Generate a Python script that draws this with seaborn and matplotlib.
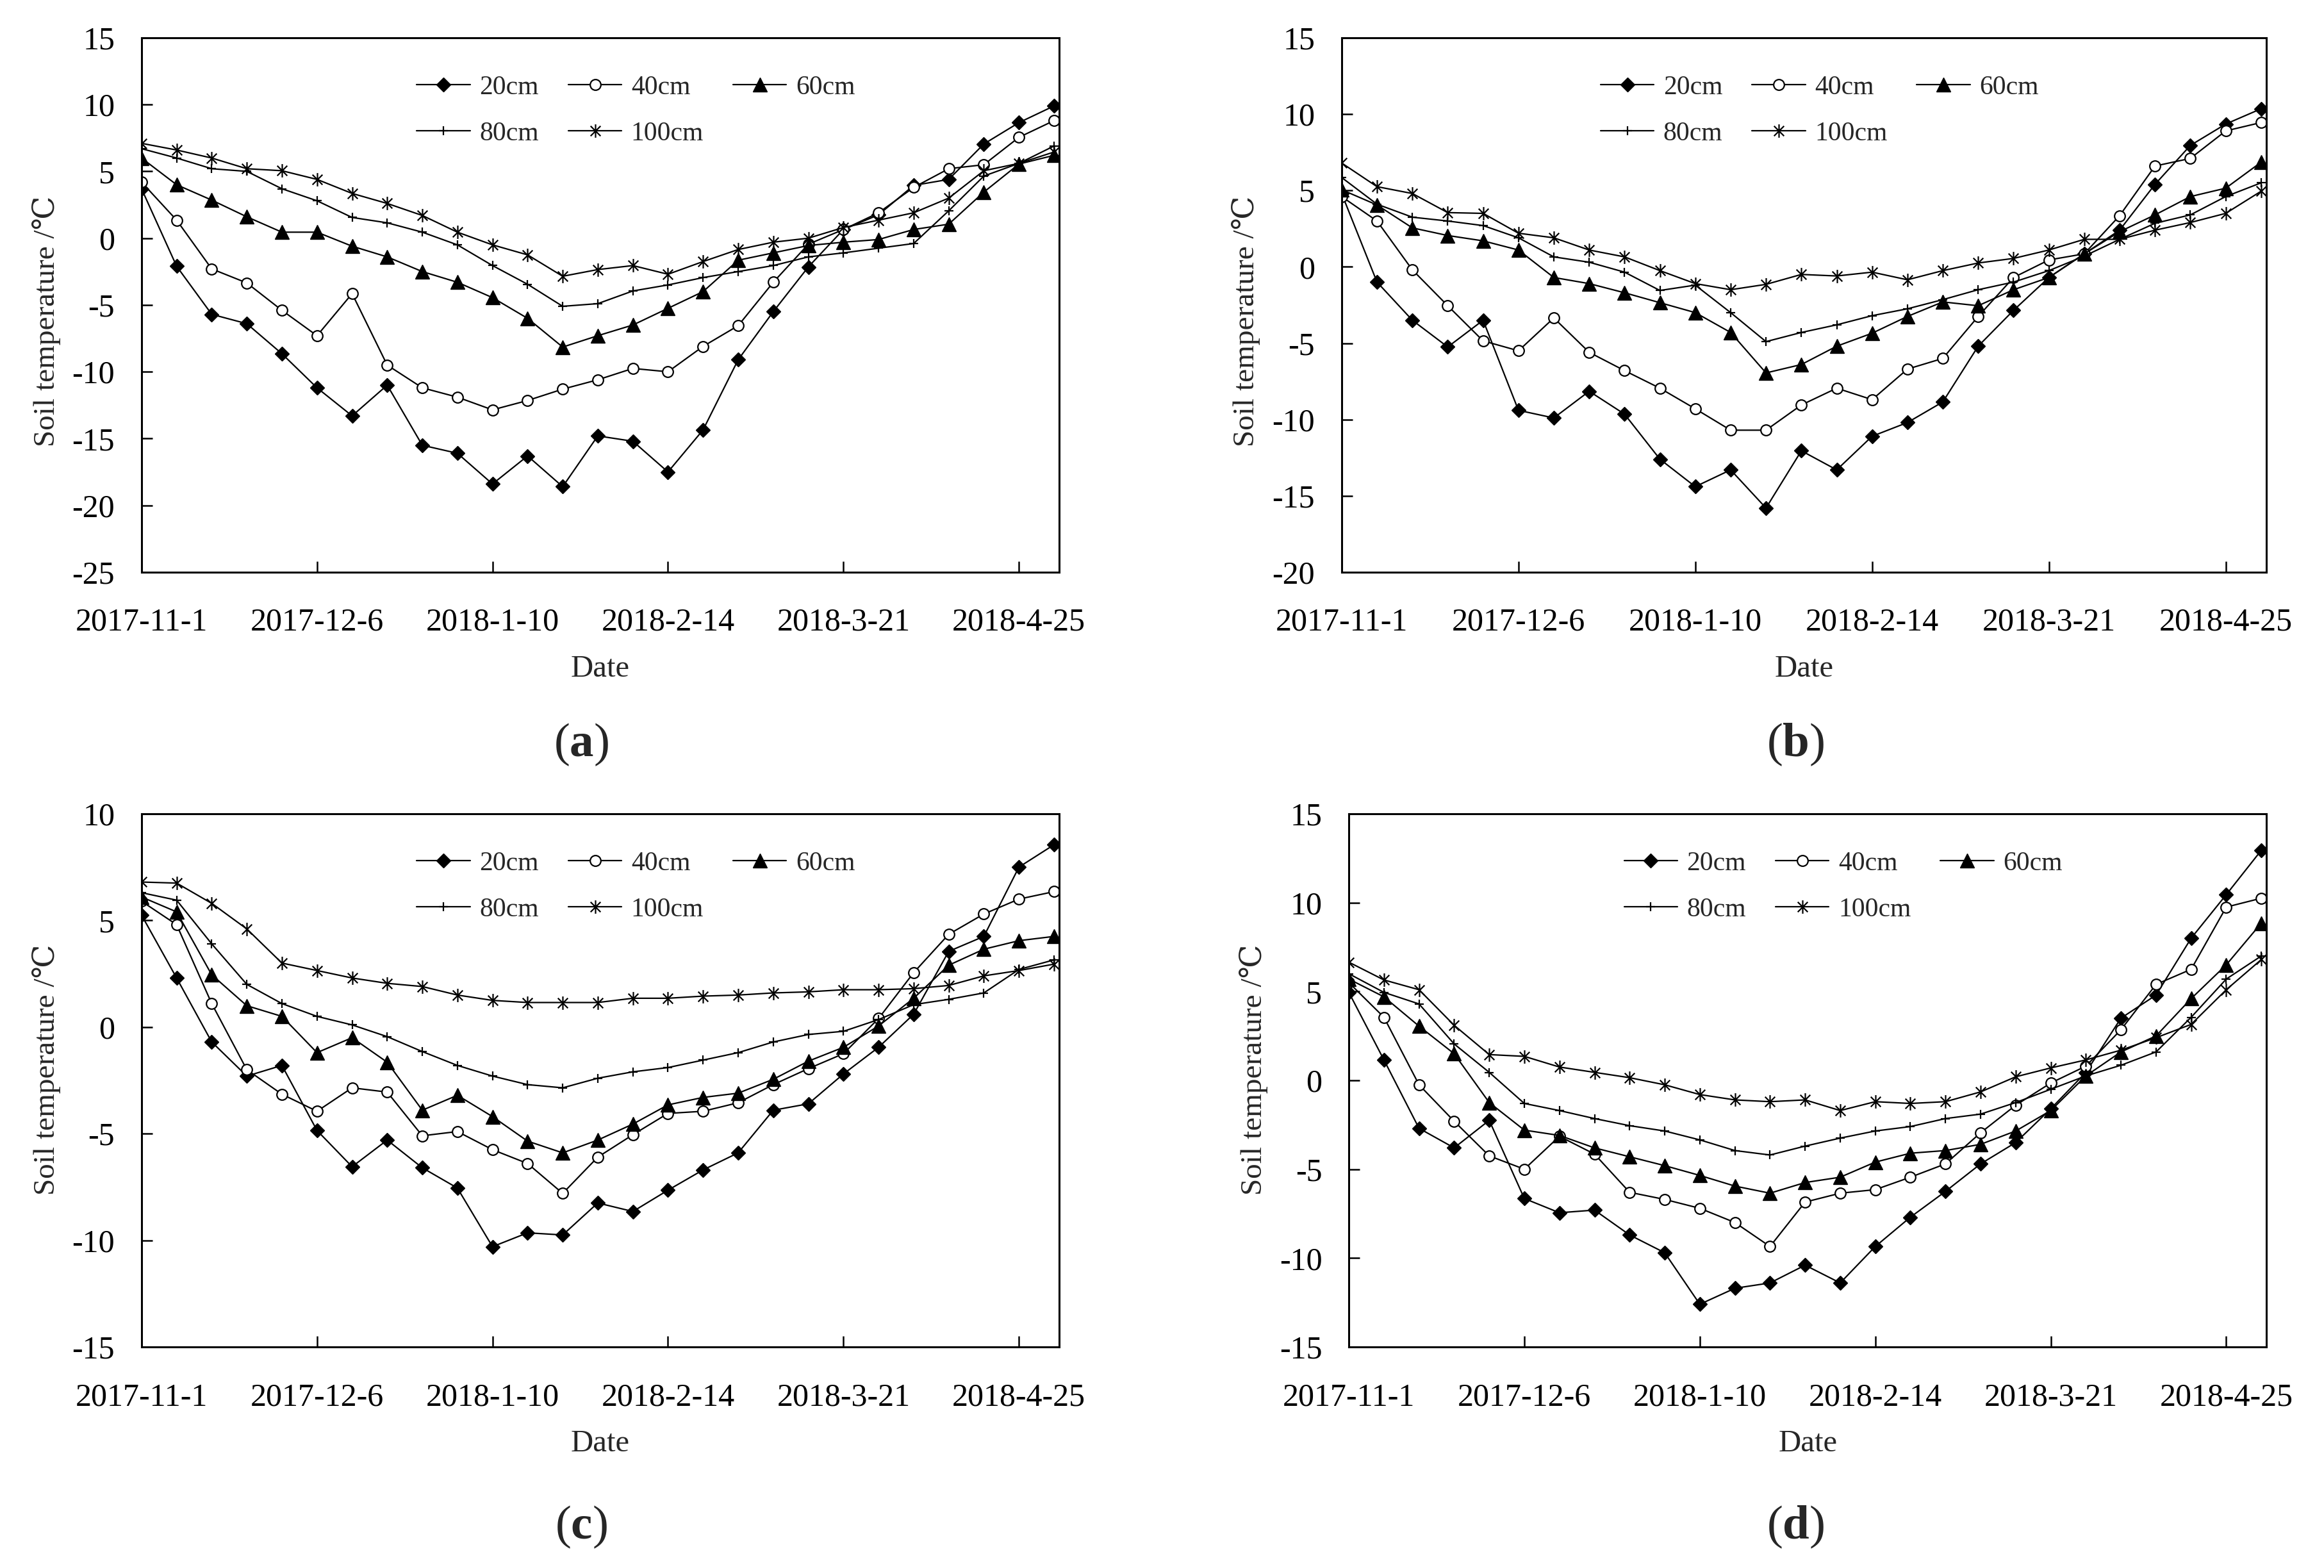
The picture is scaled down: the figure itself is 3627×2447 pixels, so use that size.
import matplotlib
matplotlib.use("Agg")
import matplotlib.pyplot as plt
import seaborn as sns
import pandas as pd
import numpy as np
from matplotlib.path import Path

# sampling dates (weekly)
dates = ["2017-11-01", "2017-11-08", "2017-11-15", "2017-11-22", "2017-11-29",
         "2017-12-06", "2017-12-13", "2017-12-20", "2017-12-27", "2018-01-03",
         "2018-01-10", "2018-01-17", "2018-01-24", "2018-01-31", "2018-02-07",
         "2018-02-14", "2018-02-21", "2018-02-28", "2018-03-07", "2018-03-14",
         "2018-03-21", "2018-03-28", "2018-04-04", "2018-04-11", "2018-04-18",
         "2018-04-25", "2018-05-02"]
tick_dates = ["2017-11-01", "2017-12-06", "2018-01-10", "2018-02-14", "2018-03-21", "2018-04-25"]
tick_labels = ["2017-11-1", "2017-12-6", "2018-1-10", "2018-2-14", "2018-3-21", "2018-4-25"]
depths = ["20cm", "40cm", "60cm", "80cm", "100cm"]

# panel (a)
a_20 = [3.7, -2.1, -5.7, -6.4, -8.65, -11.2, -13.3, -11.0, -15.5, -16.1, -18.4, -16.3, -18.6, -14.8,
        -15.2, -17.5, -14.35, -9.1, -5.5, -2.15, 0.65, 1.75, 3.95, 4.4, 7.05, 8.65, 9.9]
a_40 = [4.2, 1.35, -2.3, -3.35, -5.4, -7.3, -4.15, -9.5, -11.2, -11.9, -12.85, -12.15, -11.3, -10.6,
        -9.75, -10.0, -8.1, -6.55, -3.3, -0.45, 0.65, 1.9, 3.8, 5.2, 5.5, 7.55, 8.8]
a_60 = [6.0, 4.0, 2.85, 1.6, 0.45, 0.45, -0.6, -1.4, -2.5, -3.3, -4.45, -6.0, -8.15, -7.3,
        -6.5, -5.25, -4.0, -1.65, -1.1, -0.55, -0.3, -0.1, 0.65, 1.05, 3.45, 5.55, 6.2]
a_80 = [6.7, 6.0, 5.2, 5.0, 3.7, 2.8, 1.55, 1.15, 0.45, -0.5, -2.05, -3.45, -5.1, -4.9,
        -3.95, -3.5, -2.95, -2.5, -2.05, -1.4, -1.1, -0.75, -0.4, 2.05, 4.65, 5.6, 6.9]
a_100 = [7.1, 6.6, 6.0, 5.2, 5.05, 4.4, 3.35, 2.6, 1.7, 0.45, -0.5, -1.25, -2.85, -2.35,
         -2.05, -2.7, -1.75, -0.85, -0.3, 0.0, 0.8, 1.35, 1.9, 3.0, 5.05, 5.6, 6.45]

# panel (b)
b_20 = [4.8, -1.0, -3.5, -5.25, -3.5, -9.4, -9.9, -8.15, -9.65, -12.6, -14.4, -13.3, -15.8, -12.05,
        -13.3, -11.1, -10.2, -8.85, -5.2, -2.85, -0.7, 0.85, 2.4, 5.4, 7.95, 9.35, 10.35]
b_40 = [4.6, 3.0, -0.2, -2.55, -4.85, -5.5, -3.35, -5.6, -6.8, -7.95, -9.3, -10.7, -10.7, -9.05,
        -7.95, -8.7, -6.7, -6.0, -3.25, -0.7, 0.45, 0.85, 3.35, 6.6, 7.1, 8.9, 9.45]
b_60 = [5.05, 4.05, 2.55, 2.05, 1.7, 1.1, -0.7, -1.1, -1.7, -2.35, -3.0, -4.3, -6.95, -6.4,
        -5.2, -4.35, -3.25, -2.3, -2.55, -1.5, -0.7, 0.85, 2.3, 3.4, 4.6, 5.15, 6.85]
b_80 = [5.85, 4.1, 3.25, 3.0, 2.7, 1.9, 0.65, 0.3, -0.35, -1.55, -1.2, -3.0, -4.9, -4.3,
        -3.8, -3.2, -2.75, -2.15, -1.5, -1.0, -0.25, 0.7, 1.8, 2.85, 3.4, 4.6, 5.5]
b_100 = [6.8, 5.25, 4.8, 3.55, 3.5, 2.2, 1.9, 1.1, 0.65, -0.25, -1.1, -1.5, -1.15, -0.5,
         -0.6, -0.35, -0.85, -0.25, 0.25, 0.55, 1.1, 1.8, 1.8, 2.4, 2.9, 3.5, 4.95]

# panel (c)
c_20 = [5.25, 2.3, -0.7, -2.3, -1.8, -4.85, -6.55, -5.3, -6.6, -7.55, -10.3, -9.65, -9.75, -8.25,
        -8.65, -7.65, -6.7, -5.9, -3.9, -3.6, -2.2, -0.95, 0.6, 3.55, 4.25, 7.5, 8.55]
c_40 = [5.9, 4.8, 1.1, -2.0, -3.15, -3.95, -2.85, -3.05, -5.1, -4.9, -5.75, -6.4, -7.8, -6.1,
        -5.05, -4.05, -3.95, -3.55, -2.7, -1.95, -1.25, 0.4, 2.55, 4.35, 5.3, 6.0, 6.35]
c_60 = [6.1, 5.4, 2.45, 1.0, 0.5, -1.2, -0.5, -1.65, -3.9, -3.2, -4.2, -5.35, -5.9, -5.3,
        -4.55, -3.65, -3.3, -3.1, -2.45, -1.6, -0.95, 0.05, 1.35, 2.9, 3.65, 4.05, 4.25]
c_80 = [6.3, 5.95, 3.9, 2.0, 1.1, 0.5, 0.1, -0.45, -1.15, -1.8, -2.3, -2.7, -2.85, -2.4,
        -2.1, -1.9, -1.55, -1.2, -0.7, -0.35, -0.2, 0.35, 1.05, 1.3, 1.6, 2.7, 3.15]
c_100 = [6.8, 6.75, 5.8, 4.6, 3.0, 2.65, 2.3, 2.05, 1.9, 1.5, 1.25, 1.15, 1.15, 1.15,
         1.35, 1.35, 1.45, 1.5, 1.6, 1.65, 1.75, 1.75, 1.8, 1.95, 2.4, 2.65, 2.95]

# panel (d)
d_20 = [4.95, 1.15, -2.7, -3.8, -2.25, -6.65, -7.45, -7.3, -8.7, -9.7, -12.6, -11.7, -11.4, -10.4,
        -11.4, -9.35, -7.7, -6.25, -4.7, -3.5, -1.6, 0.45, 3.5, 4.8, 8.0, 10.45, 12.95]
d_40 = [5.5, 3.55, -0.25, -2.3, -4.25, -5.0, -3.15, -4.15, -6.3, -6.7, -7.2, -8.0, -9.35, -6.85,
        -6.35, -6.15, -5.45, -4.7, -2.95, -1.4, -0.15, 0.8, 2.85, 5.4, 6.25, 9.75, 10.25]
d_60 = [5.7, 4.7, 3.05, 1.5, -1.25, -2.8, -3.1, -3.8, -4.3, -4.8, -5.35, -5.95, -6.35, -5.75,
        -5.45, -4.6, -4.1, -3.95, -3.6, -2.85, -1.7, 0.25, 1.6, 2.5, 4.6, 6.5, 8.85]
d_80 = [6.0, 4.95, 4.3, 2.05, 0.45, -1.3, -1.7, -2.15, -2.55, -2.85, -3.35, -3.95, -4.2, -3.7,
        -3.25, -2.85, -2.6, -2.15, -1.9, -1.25, -0.5, 0.25, 0.85, 1.6, 3.55, 5.7, 7.0]
d_100 = [6.65, 5.65, 5.1, 3.1, 1.45, 1.35, 0.75, 0.45, 0.15, -0.25, -0.8, -1.1, -1.2, -1.1,
         -1.7, -1.2, -1.3, -1.2, -0.65, 0.2, 0.7, 1.15, 1.7, 2.4, 3.15, 5.1, 6.8]

sns.set_style("ticks")
plt.rcParams["font.family"] = ["Liberation Serif", "DejaVu Serif"]
plt.rcParams["axes.unicode_minus"] = False
plt.rcParams["mathtext.fontset"] = "custom"
plt.rcParams["mathtext.rm"] = "Liberation Serif"
plt.rcParams["mathtext.bf"] = "Liberation Serif:bold"

# excel-like asterisk marker: X plus a vertical bar
star = Path([(0, -1), (0, 1), (-0.75, -0.75), (0.75, 0.75), (-0.75, 0.75), (0.75, -0.75)],
            [Path.MOVETO, Path.LINETO] * 3)

styles = {
    "20cm": dict(marker="D", markersize=11, markerfacecolor="black", markeredgewidth=1.0),
    "40cm": dict(marker="o", markersize=12, markerfacecolor="white", markeredgewidth=1.6),
    "60cm": dict(marker="^", markersize=16, markerfacecolor="black", markeredgewidth=1.0),
    "80cm": dict(marker="+", markersize=10, markeredgewidth=1.6),
    "100cm": dict(marker=star, markersize=15, markerfacecolor="none", markeredgewidth=1.6),
}

panels = [
    dict(tag="a", series=[a_20, a_40, a_60, a_80, a_100], ylim=(-25, 15),
         rect=[0.0609, 0.6351, 0.3948, 0.3408], leg_x=0.300, ylab_y=0.47, lab=(0.250, 0.525)),
    dict(tag="b", series=[b_20, b_40, b_60, b_80, b_100], ylim=(-20, 15),
         rect=[0.5773, 0.6351, 0.3978, 0.3408], leg_x=0.280, ylab_y=0.47, lab=(0.7725, 0.525)),
    dict(tag="c", series=[c_20, c_40, c_60, c_80, c_100], ylim=(-15, 10),
         rect=[0.0609, 0.1410, 0.3948, 0.3400], leg_x=0.300, ylab_y=0.52, lab=(0.250, 0.026)),
    dict(tag="d", series=[d_20, d_40, d_60, d_80, d_100], ylim=(-15, 15),
         rect=[0.5804, 0.1410, 0.3948, 0.3400], leg_x=0.300, ylab_y=0.52, lab=(0.7725, 0.026)),
]

x = pd.to_datetime(dates)
ticks = pd.to_datetime(tick_dates)
xmin = pd.Timestamp("2017-11-01")
xmax = pd.Timestamp("2018-05-03")

fig = plt.figure(figsize=(36.27, 24.47), dpi=100)

for p in panels:
    ax = fig.add_axes(p["rect"])
    for depth, vals in zip(depths, p["series"]):
        sns.lineplot(x=x, y=vals, ax=ax, color="black", linewidth=1.6, label=depth,
                     markeredgecolor="black", errorbar=None, legend=False, **styles[depth])

    ax.set_xlim(xmin, xmax)
    ax.set_ylim(*p["ylim"])
    ax.set_yticks(np.arange(p["ylim"][0], p["ylim"][1] + 1, 5))
    ax.set_xticks(ticks)
    ax.set_xticklabels(tick_labels)

    ax.tick_params(axis="both", direction="in", length=12, width=1.8, labelsize=36,
                   colors="black", top=False, right=False)
    ax.tick_params(axis="x", pad=40)
    ax.tick_params(axis="y", pad=30)
    for sp in ax.spines.values():
        sp.set_linewidth(2.2)
        sp.set_color("black")
        sp.set_visible(True)

    ax.set_xlabel("Date", fontsize=35)
    ax.xaxis.set_label_coords(0.5, -0.155)
    ax.set_ylabel("Soil temperature /℃", fontsize=34)
    ax.yaxis.set_label_coords(-0.088, p["ylab_y"])

    # legend laid out row-wise like the original
    h, l = ax.get_legend_handles_labels()
    order = [0, 3, 1, 4, 2]
    ax.legend([h[i] for i in order], [l[i] for i in order], ncol=3, frameon=False,
              loc="upper left", bbox_to_anchor=(p["leg_x"], 0.93), borderaxespad=0,
              borderpad=0, fontsize=30, handlelength=2.0, handletextpad=0.35,
              columnspacing=1.1, labelspacing=0.8)

    fig.text(p["lab"][0], p["lab"][1], r"($\mathbf{%s}$)" % p["tag"], fontsize=54,
             ha="center", va="center")

fig.savefig("out.png", dpi=100, facecolor="white")
